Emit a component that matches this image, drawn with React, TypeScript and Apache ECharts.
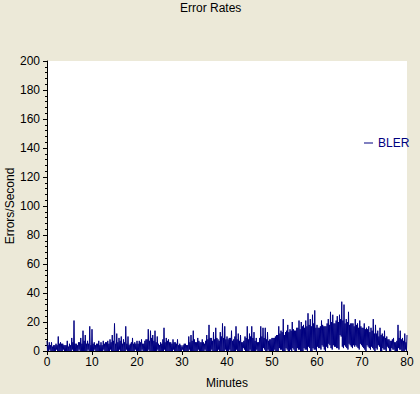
import React, { useEffect, useRef } from "react";
import * as echarts from "echarts";

const TITLE = "Error Rates";
const SERIES_NAME = "BLER";
const X_NAME = "Minutes";
const Y_NAME = "Errors/Second";
const X_MIN = 0;
const X_MAX = 80;
const X_INTERVAL = 10;
const Y_MIN = 0;
const Y_MAX = 200;
const Y_INTERVAL = 20;
// sampling step (minutes) of the peak readings
const STEP = 0.5;

// peak values, one per half minute from 0 to 80
const peaks = [
  7, 6, 6, 4, 5, 10, 6, 5, 4, 7, 5, 9, 21, 5, 6, 9, 14, 11, 7, 17, 15, 6, 5, 7, 6, 7, 6, 7, 8, 11, 19, 12, 9, 10, 8, 17, 10, 5, 9, 6, 7,
  7, 8, 5, 8, 15, 14, 11, 14, 10, 4, 5, 16, 9, 8, 6, 8, 6, 8, 5, 3, 5, 4, 10, 11, 14, 6, 9, 6, 8, 5, 11, 18, 9, 13, 16, 8, 13, 19, 17, 10,
  9, 14, 8, 17, 12, 11, 6, 10, 17, 12, 17, 13, 9, 6, 17, 16, 16, 13, 8, 9, 9, 11, 17, 14, 22, 13, 18, 15, 20, 14, 16, 21, 20, 18, 21, 26, 22, 25, 28, 18,
  16, 21, 17, 17, 22, 27, 25, 19, 24, 25, 34, 32, 22, 27, 19, 19, 22, 19, 21, 16, 19, 16, 17, 16, 22, 18, 14, 16, 12, 14, 10, 8, 7, 9, 6, 18, 14, 9, 12, 11,
];

// dense body level, one per half minute
const levels = [
  4, 4, 3, 4, 4, 5, 5, 4, 4, 3, 4, 6, 5, 4, 6, 5, 7, 5, 5, 4,
  5, 4, 5, 4, 4, 5, 6, 5, 6, 7, 5, 6, 7, 5, 6, 5, 4, 6, 5, 5,
  5, 6, 5, 7, 8, 7, 9, 7, 6, 5, 6, 8, 6, 7, 6, 5, 6, 5, 4, 4,
  4, 5, 4, 6, 7, 8, 6, 7, 6, 6, 7, 8, 9, 7, 8, 9, 7, 10, 9, 8,
  8, 9, 7, 10, 8, 7, 6, 7, 9, 8, 10, 9, 7, 6, 9, 10, 9, 8, 7, 8,
  9, 10, 11, 12, 13, 11, 14, 13, 14, 15, 14, 16, 15, 17, 16, 17, 18, 17, 19, 16,
  16, 17, 18, 17, 19, 18, 20, 19, 21, 20, 22, 21, 19, 20, 18, 19, 17, 18, 16, 17,
  16, 15, 15, 13, 14, 12, 12, 10, 11, 10, 9, 8, 7, 8, 6, 7, 9, 8, 7, 6,
];

// trough values, one per half minute
const troughs = [
  0, 1, 0, 0, 1, 0, 0, 1, 0, 0, 0, 1, 0, 0, 1, 0, 0, 0, 1, 0, 0, 1, 0, 0, 0, 1, 0, 0, 1, 0, 0, 0, 1, 0, 0, 1, 0, 0, 0, 1,
  0, 0, 1, 0, 0, 1, 0, 0, 0, 1, 0, 0, 1, 0, 0, 0, 1, 0, 0, 0, 1, 0, 0, 1, 0, 0, 0, 1, 0, 0, 1, 0, 0, 1, 0, 0, 1, 0, 0, 1,
  0, 1, 0, 0, 1, 0, 0, 2, 0, 0, 1, 0, 0, 1, 0, 0, 2, 0, 1, 0, 0, 1, 0, 2, 1, 0, 2, 0, 1, 2, 0, 2, 1, 0, 2, 1, 3, 0, 2, 1,
  3, 2, 4, 1, 3, 5, 2, 4, 3, 2, 11, 3, 4, 2, 5, 3, 4, 4, 2, 5, 3, 1, 4, 2, 3, 1, 2, 4, 0, 2, 1, 3, 0, 2, 1, 0, 2, 1, 0, 1,
];

const FONT = "'Liberation Sans', Arial, sans-serif";
const BG = "#ECE9D8";
const NAVY = "#000080";

export default function App() {
  const ref = useRef<HTMLDivElement>(null);
  useEffect(() => {
    if (!ref.current) return;
    const chart = echarts.init(ref.current, undefined, { renderer: "svg" });
    const data: [number, number][] = [];
    peaks.forEach((p, i) => {
      const t = i * STEP;
      data.push([t, p]);
      if (i < troughs.length) {
        data.push([t + STEP / 4, troughs[i]]);
        data.push([t + STEP / 2, levels[i]]);
        data.push([t + (3 * STEP) / 4, Math.max(0, troughs[i] - 1)]);
      }
    });
    chart.setOption({
      animation: false,
      backgroundColor: BG,
      textStyle: { fontFamily: FONT },
      title: {
        text: TITLE,
        left: 180,
        top: 2,
        padding: 0,
        textStyle: { fontSize: 12, fontWeight: "normal", color: "#000", fontFamily: FONT },
      },
      legend: {
        data: [SERIES_NAME],
        left: 364,
        top: 137,
        padding: 0,
        icon: "rect",
        itemWidth: 9,
        itemHeight: 1,
        textStyle: { color: NAVY, fontSize: 12, fontFamily: FONT },
      },
      grid: {
        left: 47,
        right: 13,
        top: 61,
        bottom: 43,
        containLabel: false,
        outerBoundsMode: "none",
        show: true,
        backgroundColor: "#fff",
        borderWidth: 0,
      },
      xAxis: {
        type: "value",
        min: X_MIN,
        max: X_MAX,
        interval: X_INTERVAL,
        name: X_NAME,
        nameLocation: "middle",
        nameGap: 26,
        nameMoveOverlap: false,
        nameTextStyle: { color: "#000", fontSize: 12, fontFamily: FONT },
        axisLine: { show: true, lineStyle: { color: "#000", width: 1 } },
        axisTick: { show: true, length: 4, lineStyle: { color: "#000" } },
        axisLabel: { color: "#000", fontSize: 12, margin: 5, fontFamily: FONT },
        splitLine: { show: false },
      },
      yAxis: {
        type: "value",
        min: Y_MIN,
        max: Y_MAX,
        interval: Y_INTERVAL,
        name: Y_NAME,
        nameLocation: "middle",
        nameRotate: 90,
        nameGap: 31,
        nameMoveOverlap: false,
        nameTextStyle: { color: "#000", fontSize: 12, fontFamily: FONT },
        axisLine: { show: true, lineStyle: { color: "#000", width: 1 } },
        axisTick: { show: true, length: 4, lineStyle: { color: "#000" } },
        minorTick: { show: true, splitNumber: 5, length: 2, lineStyle: { color: "#000" } },
        axisLabel: { color: "#000", fontSize: 12, margin: 7, fontFamily: FONT },
        splitLine: { show: false },
      },
      series: [
        {
          name: SERIES_NAME,
          type: "line",
          data,
          showSymbol: false,
          symbol: "none",
          lineStyle: { color: NAVY, width: 1 },
          itemStyle: { color: NAVY },
        },
      ],
    });
    return () => chart.dispose();
  }, []);
  return <div ref={ref} style={{ width: 420, height: 394, position: "absolute", left: 0, top: 0 }} />;
}
